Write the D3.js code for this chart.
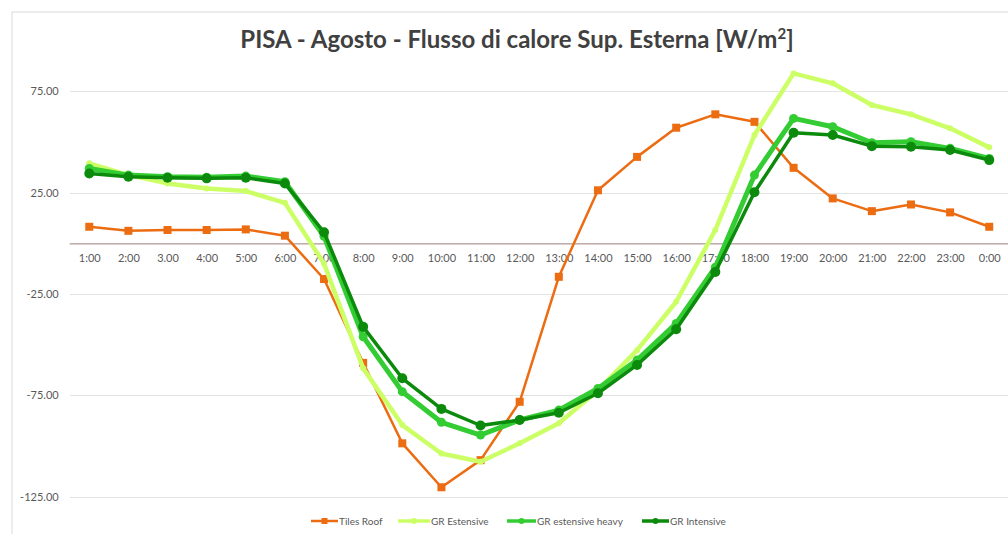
<!DOCTYPE html>
<html>
<head>
<meta charset="utf-8">
<script src="https://cdn.jsdelivr.net/npm/d3@7"></script>
<style>
  html, body { margin: 0; padding: 0; background: #fff; }
  svg { display: block; font-family: Lato, "Open Sans", sans-serif; }
</style>
</head>
<body>
<svg id="chart"></svg>
<script>
// hours on the x axis (the "3.00" is how it appears in the original)
const hours = ["1:00", "2:00", "3.00", "4:00", "5:00", "6:00", "7:00", "8:00", "9:00", "10:00", "11:00", "12:00",
  "13:00", "14:00", "15:00", "16:00", "17:00", "18:00", "19:00", "20:00", "21:00", "22:00", "23:00", "0:00"];

const tilesRoof = [8.2, 6.2, 6.6, 6.6, 6.9, 3.8, -17.6, -59.0, -98.7, -120.4, -107.0, -78.2,
  -16.5, 26.2, 42.7, 57.1, 63.7, 60.0, 37.3, 22.2, 15.9, 19.2, 15.3, 8.2];
const grEstensive = [39.5, 33.7, 29.6, 27.1, 25.8, 20.0, -10.0, -61.7, -89.7, -103.7, -107.8, -98.7,
  -88.8, -72.5, -52.7, -28.8, 6.6, 53.5, 83.9, 79.0, 68.3, 63.7, 56.8, 47.4];
const grEstensiveHeavy = [37.0, 33.7, 32.9, 32.6, 33.2, 30.4, 3.5, -46.1, -73.2, -88.3, -94.6, -87.2,
  -82.3, -71.6, -57.6, -39.5, -11.8, 33.7, 61.7, 57.6, 49.7, 50.2, 46.9, 41.9];
const grIntensive = [34.5, 32.9, 32.4, 32.1, 32.4, 29.6, 5.5, -41.2, -66.6, -81.7, -89.9, -87.2,
  -83.6, -74.0, -60.0, -42.4, -14.1, 25.2, 54.6, 53.5, 48.0, 47.7, 46.1, 41.1];

const yTicks = [-125, -75, -25, 25, 75];

const seriesNames = ["Tiles Roof", "GR Estensive", "GR estensive heavy", "GR Intensive"];

const W = 1008, H = 534;

const svg = d3.select("#chart")
  .attr("width", W)
  .attr("height", H);

// chart frame (only left and top edges are visible in the crop)
svg.append("path")
  .attr("d", `M12,${H} L12,12 L${W},12`)
  .attr("fill", "none")
  .attr("stroke", "#d9d9d9")
  .attr("stroke-width", 1);

// title
const title = svg.append("text")
  .attr("x", 517)
  .attr("y", 48)
  .attr("text-anchor", "middle")
  .style("font-size", "24px")
  .style("font-weight", "bold")
  .style("fill", "#404040")
  .text("PISA - Agosto - Flusso di calore Sup. Esterna [W/m");
title.append("tspan")
  .attr("dy", -9)
  .style("font-size", "15px")
  .text("2");
title.append("tspan")
  .attr("dy", 9)
  .text("]");

// scales
const x = d3.scalePoint()
  .domain(hours)
  .range([69.7, 1008.8])
  .padding(0.5);

const y = d3.scaleLinear()
  .domain([-125, 100])
  .range([496.6, 40.8]);

// gridlines
svg.append("g")
  .selectAll("line")
  .data(yTicks)
  .join("line")
  .attr("x1", 70)
  .attr("x2", W)
  .attr("y1", d => Math.round(y(d)) + 0.5)
  .attr("y2", d => Math.round(y(d)) + 0.5)
  .attr("stroke", "#e3e3e3")
  .attr("stroke-width", 1);

// y axis labels
const yAxis = svg.append("g")
  .attr("transform", "translate(69.7,0)")
  .call(d3.axisLeft(y).tickValues(yTicks).tickSize(0).tickPadding(11).tickFormat(d => d.toFixed(2)));
yAxis.select(".domain").remove();
yAxis.selectAll("text")
  .style("font-size", "11px")
  .style("fill", "#595959")
  .style("font-family", "Lato, sans-serif");

// x axis on the zero line
const xAxis = svg.append("g")
  .attr("transform", `translate(0,${y(0)})`)
  .call(d3.axisBottom(x).tickSize(0).tickPadding(11));
xAxis.select(".domain")
  .attr("d", `M69.7,0.5H${W}`)
  .attr("stroke", "#9e7e7a")
  .attr("stroke-width", 1);
xAxis.selectAll("text")
  .style("font-size", "11px")
  .style("fill", "#595959")
  .style("font-family", "Lato, sans-serif");

// series drawing
const series = [
  { name: seriesNames[0], values: tilesRoof, color: "#ec6c12", width: 2.5, marker: "square", size: 8 },
  { name: seriesNames[1], values: grEstensive, color: "#ccff66", width: 4.5, marker: "circle", size: 3 },
  { name: seriesNames[2], values: grEstensiveHeavy, color: "#33cc33", width: 5, marker: "circle", size: 4.5 },
  { name: seriesNames[3], values: grIntensive, color: "#0b8a0b", width: 3.5, marker: "circle", size: 5 }
];

const line = d3.line()
  .x((d, i) => x(hours[i]))
  .y(d => y(d));

series.forEach(s => {
  const g = svg.append("g");
  g.append("path")
    .datum(s.values)
    .attr("fill", "none")
    .attr("stroke", s.color)
    .attr("stroke-width", s.width)
    .attr("stroke-linejoin", "round")
    .attr("d", line);

  if (s.marker === "square") {
    g.selectAll("rect")
      .data(s.values)
      .join("rect")
      .attr("x", (d, i) => x(hours[i]) - s.size / 2)
      .attr("y", d => y(d) - s.size / 2)
      .attr("width", s.size)
      .attr("height", s.size)
      .attr("fill", s.color);
  } else {
    g.selectAll("circle")
      .data(s.values)
      .join("circle")
      .attr("cx", (d, i) => x(hours[i]))
      .attr("cy", d => y(d))
      .attr("r", s.size)
      .attr("fill", s.color);
  }
});

// legend
const legendPos = [
  { lineX: 311, textX: 339 },
  { lineX: 398, textX: 431 },
  { lineX: 507, textX: 537 },
  { lineX: 642, textX: 670 }
];
const legend = svg.append("g").attr("transform", "translate(0,521)");
series.forEach((s, i) => {
  const p = legendPos[i];
  legend.append("line")
    .attr("x1", p.lineX)
    .attr("x2", p.textX - 1)
    .attr("y1", 0)
    .attr("y2", 0)
    .attr("stroke", s.color)
    .attr("stroke-width", Math.min(s.width, 3.5));
  const cx = (p.lineX + p.textX - 1) / 2;
  if (s.marker === "square") {
    legend.append("rect")
      .attr("x", cx - 3)
      .attr("y", -3)
      .attr("width", 6)
      .attr("height", 6)
      .attr("fill", s.color);
  } else {
    legend.append("circle")
      .attr("cx", cx)
      .attr("cy", 0)
      .attr("r", Math.min(s.size, 3))
      .attr("fill", s.color);
  }
  legend.append("text")
    .attr("x", p.textX)
    .attr("y", 0)
    .attr("dy", "0.35em")
    .style("font-size", "10px")
    .style("fill", "#595959")
    .text(s.name);
});
</script>
</body>
</html>
